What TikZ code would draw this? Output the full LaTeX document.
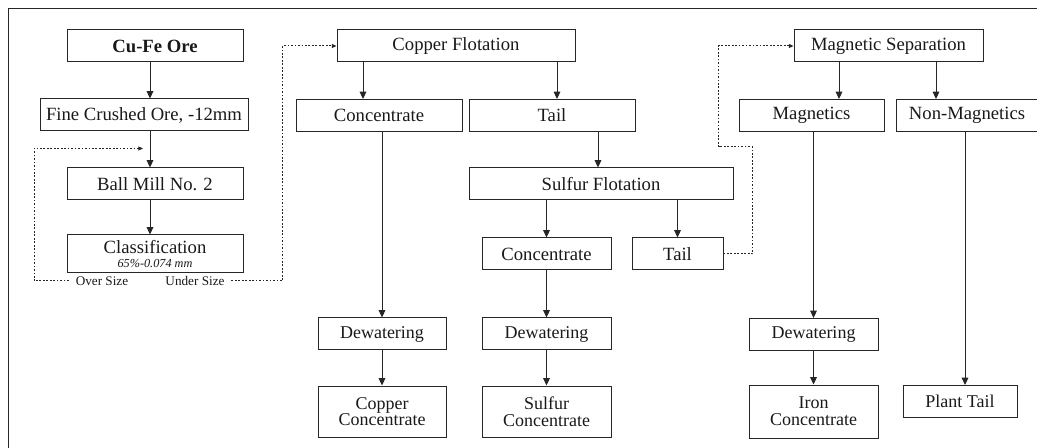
\documentclass[tikz,border=0pt]{standalone}
\usepackage{fontspec}
\setmainfont{Liberation Serif}
\usetikzlibrary{arrows.meta,calc}
\begin{document}
\begin{tikzpicture}[x=0.75pt,y=-0.75pt,
  every node/.style={font=\fontsize{14}{13}\selectfont, text=black!90},
  box/.style={draw=black!85, line width=0.75pt, inner sep=0pt, minimum height=24pt, align=center},
  low/.style={box, font=\fontsize{13.5}{12.5}\selectfont},
  arr/.style={draw=black!85, line width=0.75pt, -{Triangle[length=5.5pt,width=5pt]}},
  dots/.style={draw=black!85, line width=0.75pt, dash pattern=on 1.3pt off 1.3pt},
  darr/.style={dots, -{Triangle[length=3.5pt,width=3pt]}},
  lab/.style={font=\fontsize{9.9}{10}\selectfont, inner ysep=1pt, inner xsep=5pt}]
\useasboundingbox (0,0) rectangle (1037,448);
\begin{scope}
\clip (0,0) rectangle (1037,448);
\draw[black!85, line width=0.75pt] (8,460) -- (8,9) -- (1050,9);

% left column
\node[box, minimum width=132pt, font=\fontsize{14}{13}\selectfont\bfseries] (ore) at (155,46) {Cu-Fe Ore};
\node[box, minimum width=156pt] (fine) at (144,115) {Fine Crushed Ore, -12mm};
\node[box, minimum width=132pt] (mill) at (155,184) {Ball Mill No. 2};
\node[box, minimum width=132pt, minimum height=28.5pt] (cls) at (155,254)
  {Classification\\[-3pt]{\fontsize{9.2}{9}\selectfont\itshape 65\%-0.074 mm}};
\node[lab] (over) at (102,281) {Over Size};
\node[lab] (under) at (195,281) {Under Size};

% copper flotation
\node[box, minimum width=178.5pt] (cf) at (456,46) {Copper Flotation};
\node[box, minimum width=124.5pt] (c1) at (379,115.5) {Concentrate};
\node[box, minimum width=124.5pt] (t1) at (552,115.5) {Tail};
\node[box, minimum width=198pt] (sf) at (601,184) {Sulfur Flotation};
\node[box, minimum width=96.75pt] (c2) at (546.5,254) {Concentrate};
\node[box, minimum width=68.25pt] (t2) at (677.5,254) {Tail};

% magnetic separation
\node[box, minimum width=141.75pt] (ms) at (888.5,46) {Magnetic Separation};
\node[box, minimum width=108.75pt] (mag) at (811.5,115.5) {Magnetics};
\node[box, minimum width=106.5pt] (nonmag) at (967,115.5) {Non-Magnetics};

% bottom row
\node[low, minimum width=96pt] (dw1) at (382,334) {Dewatering};
\node[low, minimum width=96pt, minimum height=38.25pt] (cc) at (382,411.5) {Copper\\Concentrate};
\node[low, minimum width=96.75pt] (dw2) at (546.5,334) {Dewatering};
\node[low, minimum width=96.75pt, minimum height=38.25pt] (sc) at (546.5,411.5) {Sulfur\\Concentrate};
\node[low, minimum width=96.75pt] (dw3) at (813.5,334.5) {Dewatering};
\node[low, minimum width=96.75pt, minimum height=39.75pt] (ic) at (813.5,411.5) {Iron\\Concentrate};
\node[low, minimum width=85.5pt] (pt) at (960,401.5) {Plant Tail};

% anchor points for off-centre connectors
\coordinate (a1) at ($(ore.south)+(-5,0)$);
\coordinate (a2) at ($(fine.south)+(6,0)$);
\coordinate (a3) at ($(mill.south)+(-5,0)$);
\coordinate (a4) at ($(cf.south)+(-93,0)$);
\coordinate (a5) at ($(cf.south)+(101,0)$);
\coordinate (a6) at ($(t1.south)+(46,0)$);
\coordinate (a7) at ($(ms.south)+(-49.5,0)$);
\coordinate (a8) at ($(ms.south)+(47.5,0)$);
\coordinate (a9) at ($(nonmag.south)+(-2,0)$);

% solid arrows
\draw[arr] (a1) -- (a1 |- fine.north);
\draw[arr] (a2) -- (a2 |- mill.north);
\draw[arr] (a3) -- (a3 |- cls.north);
\draw[arr] (a4) -- (a4 |- c1.north);
\draw[arr] (a5) -- (a5 |- t1.north);
\draw[arr] (a6) -- (a6 |- sf.north);
\draw[arr] (sf.south -| c2) -- (c2.north);
\draw[arr] (sf.south -| t2) -- (t2.north);
\draw[arr] (c1.south -| dw1) -- (dw1.north);
\draw[arr] (dw1) -- (cc);
\draw[arr] (c2) -- (dw2);
\draw[arr] (dw2) -- (sc);
\draw[arr] (a7) -- (a7 |- mag.north);
\draw[arr] (a8) -- (a8 |- nonmag.north);
\draw[arr] (mag.south -| dw3) -- (dw3.north);
\draw[arr] (dw3) -- (ic);
\draw[arr] (a9) -- (a9 |- pt.north);

% dotted recycle lines
\coordinate (fb) at ($(a2)+(-7,17)$);
\draw[darr] (over.west) -| ($(a2)+(-116,17)$) -- (fb);
\draw[darr] (under.east) -| ($(cf.west)+(-54,0)$) -- (cf.west);
\draw[darr] (t2.east) -- ++(29,0) -- ++(0,-107) -- ++(-34,0) |- (ms.west);
\end{scope}
\end{tikzpicture}
\end{document}
